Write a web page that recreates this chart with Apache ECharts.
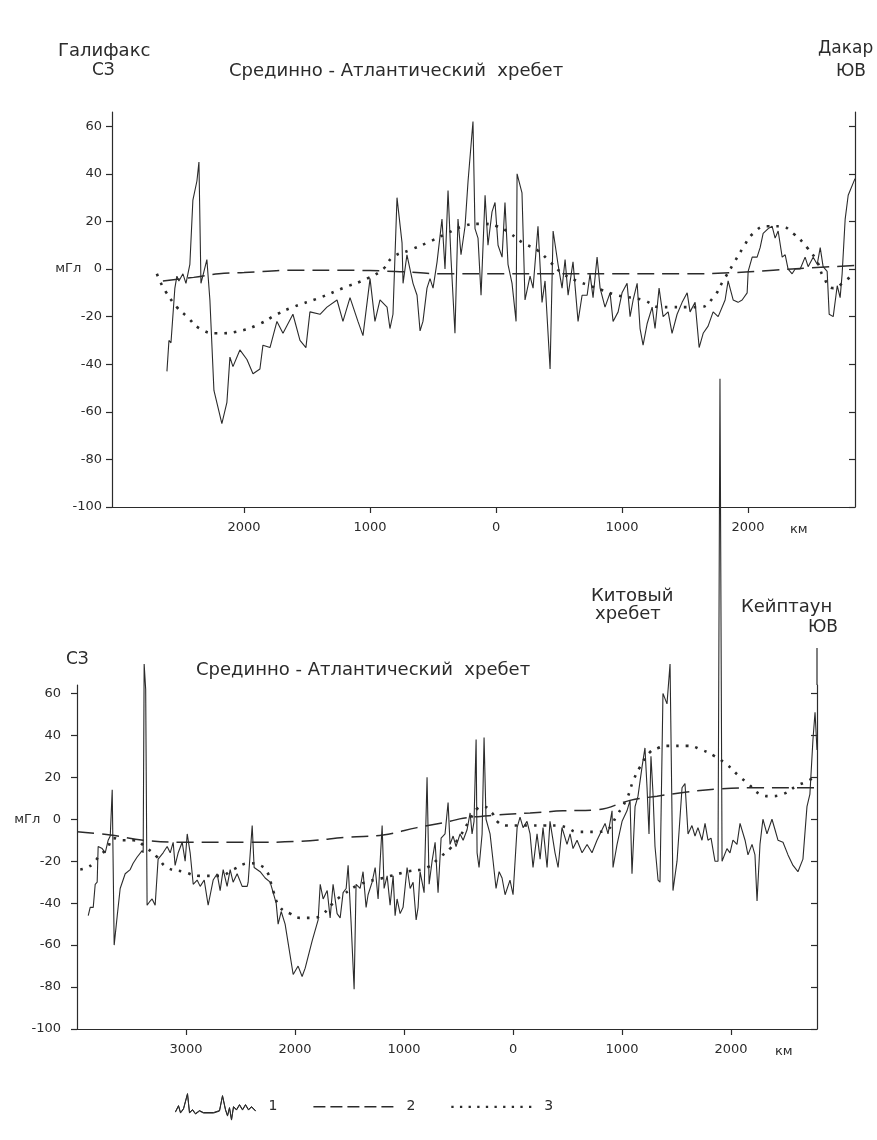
<!DOCTYPE html>
<html>
<head>
<meta charset="utf-8">
<script src="https://cdn.jsdelivr.net/npm/echarts@6/dist/echarts.min.js"></script>
<style>
  html, body { margin: 0; background: #fff; }
  #main { width: 877px; height: 1140px; }
</style>
</head>
<body>
<div id="main"></div>
<script>
// Профили аномалий силы тяжести через Атлантику (мГл), расстояние от оси хребта, км
// верхний профиль: Галифакс - Дакар
var topObsKm = [-2612,-2596,-2580,-2549,-2533,-2517,-2485,-2461,-2430,-2406,-2374,-2358,-2342,-2318,-2295,-2271,-2239,-2176,-2136,-2112,-2088,-2033,-1977,-1929,-1874,-1850,-1794,-1739,-1691,-1612,-1556,-1509,-1477,-1397,-1342,-1262,-1215,-1159,-1096,-1056,-1000,-961,-921,-865,-842,-818,-786,-746,-738,-707,-683,-659,-627,-603,-580,-548,-524,-500,-468,-429,-405,-381,-357,-326,-302,-278,-246,-222,-183,-167,-143,-119,-87,-64,-32,-8,16,48,71,95,127,159,167,206,230,270,294,333,365,389,429,453,492,524,548,572,611,651,683,723,746,770,802,826,865,905,929,969,1000,1040,1064,1088,1120,1143,1167,1199,1239,1262,1294,1326,1366,1397,1437,1477,1517,1540,1580,1612,1644,1683,1723,1763,1818,1842,1882,1921,1953,1993,2001,2033,2072,2096,2120,2160,2191,2215,2239,2271,2295,2318,2350,2374,2414,2453,2477,2517,2549,2573,2596,2628,2644,2676,2708,2731,2747,2771,2795,2849];
var topObs   = [-43,-30,-31,-8,-3,-5,-2,-6,2,29,37,45,-6,-1,4,-13,-51,-65,-56,-37,-41,-34,-38,-44,-42,-32,-33,-22,-27,-19,-30,-33,-18,-19,-16,-13,-22,-12,-22,-28,-4,-22,-13,-16,-25,-19,30,11,-6,6,0,-6,-11,-26,-22,-8,-4,-8,3,21,0,33,4,-27,21,6,18,37,62,17,13,-11,31,10,24,28,10,5,28,2,-6,-22,40,32,-13,-3,-8,18,-14,-5,-42,16,2,-8,4,-11,3,-22,-11,-11,-2,-12,5,-8,-16,-10,-22,-18,-10,-6,-20,-13,-6,-25,-32,-23,-16,-25,-8,-20,-18,-27,-19,-14,-10,-18,-14,-33,-27,-24,-18,-20,-13,-5,-13,-14,-13,-10,-1,5,5,9,15,17,18,13,16,5,6,0,-2,0,0,5,1,5,2,9,1,-1,-19,-20,-7,-12,-2,21,31,38];
var topModelKm = [-2644,-2400,-2200,-2000,-1600,-1200,-800,-400,0,500,1000,1500,1900,2200,2500,2849];
var topModel   = [-5,-3.5,-2,-1.5,-0.5,-0.5,-1,-2,-2,-2,-2,-2,-1.5,-0.5,0.5,1.5];
var topDotKm = [-2692,-2668,-2628,-2533,-2453,-2350,-2215,-2033,-1874,-1739,-1612,-1397,-1215,-1024,-897,-818,-683,-548,-389,-262,-127,8,111,214,326,429,532,643,746,850,961,1167,1302,1405,1517,1620,1723,1802,1882,1961,2041,2152,2255,2358,2469,2549,2596,2676,2771,2834];
var topDot   = [-2,-5,-9,-16,-20,-25,-27,-26,-23,-19,-16,-12,-8,-4,0,5,8,11,15,18,19,18,15,11,8,3,-2,-5,-7,-9,-11,-13,-16,-16,-16,-16,-12,-5,2,9,15,18,18,15,9,3,-3,-8,-5,-2];

// нижний профиль: до Кейптауна
var botObsKm = [-3897,-3879,-3851,-3833,-3815,-3806,-3769,-3741,-3714,-3695,-3677,-3659,-3631,-3604,-3558,-3512,-3485,-3448,-3402,-3393,-3384,-3370,-3357,-3329,-3311,-3283,-3256,-3210,-3173,-3145,-3118,-3100,-3072,-3035,-3008,-2989,-2962,-2934,-2898,-2870,-2833,-2797,-2751,-2714,-2687,-2659,-2623,-2595,-2568,-2531,-2485,-2439,-2430,-2393,-2375,-2320,-2274,-2228,-2173,-2155,-2127,-2091,-2017,-1972,-1935,-1907,-1843,-1788,-1769,-1742,-1705,-1678,-1651,-1614,-1586,-1559,-1531,-1513,-1486,-1458,-1440,-1403,-1376,-1348,-1330,-1293,-1265,-1238,-1201,-1183,-1155,-1128,-1100,-1082,-1064,-1036,-1009,-972,-944,-917,-889,-871,-853,-816,-789,-770,-743,-715,-688,-660,-624,-596,-578,-550,-523,-486,-458,-422,-394,-376,-358,-339,-330,-312,-284,-266,-248,-211,-183,-156,-128,-101,-73,-28,0,37,64,92,128,156,183,220,248,275,312,339,385,413,449,495,523,550,587,633,679,724,770,816,844,871,908,917,954,1000,1045,1073,1091,1119,1146,1183,1210,1229,1247,1265,1284,1302,1330,1348,1375,1412,1440,1467,1504,1550,1577,1605,1641,1669,1696,1733,1761,1788,1816,1852,1880,1898,1917,1926,1962,1990,2017,2054,2082,2128,2155,2192,2219,2238,2265,2292,2329,2375,2403,2430,2476,2522,2568,2613,2659,2696,2723,2751,2770,2788];
var botObs   = [-46,-42,-42,-31,-30,-13,-14,-16,-10,-8,14,-60,-46,-33,-26,-24,-21,-18,-15,-16,74,62,-41,-39,-38,-41,-19,-16,-13,-16,-11,-22,-16,-11,-20,-7,-16,-31,-29,-32,-29,-41,-29,-26,-34,-24,-32,-24,-30,-26,-32,-32,-30,-3,-23,-25,-28,-30,-40,-50,-44,-50,-74,-70,-75,-71,-58,-48,-31,-38,-34,-47,-31,-45,-47,-35,-33,-22,-49,-81,-31,-33,-25,-42,-36,-30,-23,-38,-3,-33,-27,-41,-27,-46,-38,-45,-42,-23,-33,-30,-48,-42,-25,-35,20,-31,-20,-11,-35,-9,-7,8,-12,-8,-13,-7,-10,-5,3,-7,-1,38,-16,-23,-7,39,0,-7,-20,-33,-25,-28,-36,-29,-36,-4,1,-4,-1,-7,-23,-7,-19,-4,-23,-1,-16,-23,-4,-12,-7,-14,-10,-16,-12,-16,-10,-5,-2,-7,4,-23,-12,-1,4,9,-26,6,11,25,34,15,-7,30,12,-13,-29,-30,60,55,74,-34,-20,15,17,-7,-3,-8,-4,-10,-2,-10,-9,-20,-20,210,-20,-20,-14,-16,-10,-12,-2,-10,-17,-12,-17,-39,-12,0,-7,0,-5,-10,-11,-17,-22,-25,-19,6,12,38,51,33];
var botModelKm = [-3998,-3695,-3393,-2989,-2412,-1953,-1495,-1192,-880,-578,-458,-147,156,458,770,1073,1320,1596,1898,2201,2513,2788];
var botModel   = [-6,-7.5,-10,-11,-11,-10.5,-8.5,-7.5,-4,-1,0.5,2,3,4,4.5,9,11,13,14.5,15,15,15];
var botDotKm = [-3970,-3906,-3851,-3787,-3723,-3668,-3576,-3485,-3356,-3265,-3173,-3026,-2870,-2687,-2568,-2412,-2320,-2256,-2201,-2137,-2045,-1953,-1834,-1742,-1651,-1559,-1403,-1192,-972,-789,-669,-578,-486,-394,-330,-275,-193,-147,-55,64,183,293,403,495,587,679,770,862,954,1045,1100,1165,1256,1330,1412,1596,1733,1852,1962,2063,2155,2265,2357,2476,2604,2696,2788];
var botDot   = [-24,-23,-21,-17,-14,-9,-10,-10,-14,-18,-23,-25,-27,-27,-24,-21,-22,-25,-34,-42,-45,-47,-47,-45,-40,-36,-31,-28,-25,-23,-18,-14,-8,0,5,6,3,-1,-3,-3,-3,-3,-3,-4,-6,-6,-6,-5,2,10,18,25,32,34,35,35,33,30,26,21,17,12,11,12,16,18,21];

// подписи осей
var topXTicks = [-2000, -1000, 0, 1000, 2000];
var botXTicks = [-3000, -2000, -1000, 0, 1000, 2000];
var yTicks = [-100, -80, -60, -40, -20, 0, 20, 40, 60];

var INK = '#2b2b2b';
var FONT = "'DejaVu Sans', 'Noto Sans', sans-serif";

function zip(xs, ys) {
    var out = [];
    for (var i = 0; i < xs.length; i++) out.push([xs[i], ys[i]]);
    return out;
}

function xAxisFor(gi, min, max, ticks) {
    return {
        type: 'value', gridIndex: gi, min: min, max: max,
        axisLine: { onZero: false, lineStyle: { color: INK, width: 1.2 } },
        axisTick: { customValues: ticks, length: 6, lineStyle: { color: INK, width: 1.2 } },
        axisLabel: {
            customValues: ticks, margin: 14, color: INK, fontSize: 13, fontFamily: FONT,
            formatter: function (v) { return String(Math.abs(v)); }
        },
        splitLine: { show: false }
    };
}

function yAxisFor(gi, max, margin, right) {
    return {
        type: 'value', gridIndex: gi, min: -100, max: max,
        position: right ? 'right' : 'left',
        axisLine: { show: true, onZero: false, lineStyle: { color: INK, width: 1.2 } },
        axisTick: { customValues: yTicks, inside: !!right, length: 6, lineStyle: { color: INK, width: 1.2 } },
        axisLabel: {
            show: !right, customValues: yTicks, margin: margin, color: INK, fontSize: 13, fontFamily: FONT,
            formatter: function (v) { return v === 0 ? 'мГл   0' : String(v); }
        },
        splitLine: { show: false }
    };
}

function obsSeries(xi, data, clip) {
    return { name: '1', type: 'line', xAxisIndex: xi, yAxisIndex: xi * 2, data: data,
        symbol: 'none', clip: clip, color: INK, z: 4,
        lineStyle: { color: INK, width: 1.1 } };
}
function modelSeries(xi, data) {
    return { name: '2', type: 'line', xAxisIndex: xi, yAxisIndex: xi * 2, data: data,
        symbol: 'none', smooth: 0.4, color: INK, z: 3,
        lineStyle: { color: INK, width: 1.5, type: [17, 8] } };
}
function dotSeries(xi, data) {
    return { name: '3', type: 'line', xAxisIndex: xi, yAxisIndex: xi * 2, data: data,
        symbol: 'none', smooth: 0.5, color: INK, z: 2,
        lineStyle: { color: INK, width: 2.6, type: [2.6, 7] } };
}

// значки легенды
var squiggle = [[0,20],[3,14],[5,21],[8,17],[12,2],[14,21],[17,18],[20,22],[24,19],[28,21],[38,21],[44,19],[47,4],[50,18],[52,24],[54,16],[56,28],[58,15],[61,18],[64,13],[67,18],[70,13],[73,18],[76,15],[80,19]];
var squigglePath = 'path://M' + squiggle.map(function (p) { return p[0] + ',' + p[1]; }).join(' L') +
    ' L' + squiggle.slice().reverse().map(function (p) { return p[0] + ',' + (p[1] + 0.6); }).join(' L') + ' Z';
var dashPath = 'path://' + [0, 17, 34, 51, 68].map(function (x) { return 'M' + x + ',0h12v1.6h-12z'; }).join(' ');
var dotPath = 'path://' + [0, 9, 18, 27, 36, 45, 54, 63, 72, 81].map(function (x) { return 'M' + x + ',0h2.4v2.4h-2.4z'; }).join(' ');

function txt(left, top, text, size) {
    return { type: 'text', left: left, top: top,
        style: { text: text, fill: INK, font: (size || 18) + 'px ' + FONT } };
}

var chart = echarts.init(document.getElementById('main'));
chart.setOption({
    backgroundColor: '#ffffff',
    animation: false,
    grid: [
        { left: 112, right: 22, top: 112, bottom: 633 },
        { left: 77, right: 60, top: 685, bottom: 111 }
    ],
    xAxis: [
        xAxisFor(0, -3048, 2849, topXTicks),
        xAxisFor(1, -4000, 2788, botXTicks)
    ],
    yAxis: [
        yAxisFor(0, 66, 10, false),
        yAxisFor(0, 66, 10, true),
        yAxisFor(1, 64, 16, false),
        yAxisFor(1, 64, 16, true)
    ],
    legend: {
        left: 170, top: 1088, itemWidth: 80, itemHeight: 30, itemGap: 36,
        selectedMode: false,
        textStyle: { color: INK, fontSize: 14, fontFamily: FONT, padding: [0, 0, 0, 8] },
        data: [
            { name: '1', icon: squigglePath,
              itemStyle: { color: INK, borderColor: INK, borderWidth: 1 } },
            { name: '2', icon: dashPath },
            { name: '3', icon: dotPath }
        ]
    },
    graphic: [
        txt(58, 42, 'Галифакс'),
        txt(92, 62, 'СЗ', 17),
        txt(229, 62, 'Срединно - Атлантический  хребет'),
        txt(818, 40, 'Дакар', 17),
        txt(836, 63, 'ЮВ', 17),
        txt(790, 523, 'км', 13),
        txt(66, 651, 'СЗ', 17),
        txt(196, 661, 'Срединно - Атлантический  хребет'),
        txt(591, 587, 'Китовый'),
        txt(595, 605, 'хребет'),
        txt(741, 598, 'Кейптаун'),
        txt(808, 619, 'ЮВ', 17),
        txt(775, 1045, 'км', 13),
        { type: 'line', shape: { x1: 817, y1: 648, x2: 817, y2: 685 },
          style: { stroke: INK, lineWidth: 1.2 } }
    ],
    series: [
        dotSeries(0, zip(topDotKm, topDot)),
        modelSeries(0, zip(topModelKm, topModel)),
        obsSeries(0, zip(topObsKm, topObs), true),
        dotSeries(1, zip(botDotKm, botDot)),
        modelSeries(1, zip(botModelKm, botModel)),
        obsSeries(1, zip(botObsKm, botObs), false)
    ]
});
</script>
</body>
</html>
